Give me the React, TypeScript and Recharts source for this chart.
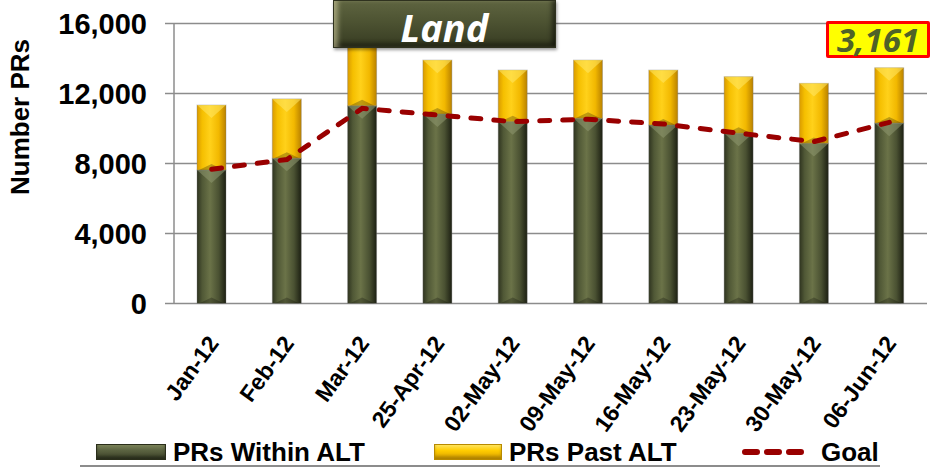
import React from 'react';
import { ComposedChart, Bar, Line, XAxis, YAxis, CartesianGrid } from 'recharts';

const categories = ['Jan-12', 'Feb-12', 'Mar-12', '25-Apr-12', '02-May-12', '09-May-12', '16-May-12', '23-May-12', '30-May-12', '06-Jun-12'];
const withinAlt = [7630, 8300, 11300, 10830, 10390, 10580, 10200, 9730, 9150, 10310];
const pastAlt = [3710, 3390, 4000, 3080, 2950, 3330, 3140, 3230, 3430, 3161];
const goal = [7670, 8230, 11150, 10770, 10390, 10530, 10260, 9730, 9250, 10350];
const yTicks = [0, 4000, 8000, 12000, 16000];
const edgeTicks = [0, 1, 2, 3, 4, 5, 6, 7, 8, 9, 10];
const legendLabels = ['PRs Within ALT', 'PRs Past ALT', 'Goal'];
const titleText = 'Land';
const calloutText = '3,161';

const data = categories.map((c, i) => ({
  name: c,
  within: withinAlt[i],
  past: pastAlt[i],
  goal: goal[i],
}));

const FONT = '"Liberation Sans", Arial, sans-serif';

const makeBevel = (gradId: string, light: string) => (props: any) => {
  const { x, y, width, height } = props;
  if (!height || height <= 0) return null;
  const tri = Math.min(width * 0.45, height / 2);
  return (
    <g>
      <rect x={x} y={y} width={width} height={height} fill={`url(#${gradId})`} stroke="rgba(120,120,120,0.35)" strokeWidth={1} />
      <polygon points={`${x},${y} ${x + width},${y} ${x + width / 2},${y + tri}`} fill={light} opacity={0.55} />
      <polygon points={`${x + 2},${y + height} ${x + width - 2},${y + height} ${x + width / 2},${y + height - Math.min(6, height / 3)}`} fill="rgba(0,0,0,0.25)" />
    </g>
  );
};

const GreenBar = makeBevel('gradGreen', '#8e9870');
const YellowBar = makeBevel('gradYellow', '#ffe866');

const XTick = (props: any) => {
  const { x, y, payload } = props;
  const ax = x + 8;
  const ay = y + 40;
  return (
    <text x={ax} y={ay} transform={`rotate(-54, ${ax}, ${ay})`} textAnchor="end" fontFamily={FONT} fontWeight="bold" fontSize={23} fill="#000">
      {payload.value}
    </text>
  );
};

const YLabel = () => (
  <text x={20} y={117} transform="rotate(-90, 20, 117)" textAnchor="middle" dominantBaseline="central" fontFamily={FONT} fontWeight="bold" fontSize={26} fill="#000">
    Number PRs
  </text>
);

export default function App() {
  return (
    <div style={{ position: 'absolute', left: 0, top: 0, width: 933, height: 469, background: '#fff', overflow: 'hidden' }}>
      <ComposedChart width={933} height={469} data={data} margin={{ top: 23.5, right: 6, left: 0, bottom: 0 }} barSize={29}>
        <defs>
          <linearGradient id="gradGreen" x1="0" y1="0" x2="1" y2="0">
            <stop offset="0%" stopColor="#2e331f" />
            <stop offset="18%" stopColor="#505836" />
            <stop offset="45%" stopColor="#6b7348" />
            <stop offset="75%" stopColor="#4a5132" />
            <stop offset="100%" stopColor="#1c1f12" />
          </linearGradient>
          <linearGradient id="gradYellow" x1="0" y1="0" x2="1" y2="0">
            <stop offset="0%" stopColor="#d99a00" />
            <stop offset="18%" stopColor="#f5bf00" />
            <stop offset="45%" stopColor="#ffd11a" />
            <stop offset="75%" stopColor="#f2b800" />
            <stop offset="100%" stopColor="#b98100" />
          </linearGradient>
        </defs>
        <CartesianGrid vertical={false} stroke="#8c8c8c" strokeWidth={1.5} xAxisId="cat" />
        <XAxis
          xAxisId="edges"
          type="number"
          domain={[0, 10]}
          ticks={edgeTicks}
          tick={false}
          tickSize={7}
          height={0}
          allowDataOverflow
          axisLine={{ stroke: '#8c8c8c', strokeWidth: 1.5 }}
          tickLine={{ stroke: '#8c8c8c', strokeWidth: 1.5 }}
        />
        <XAxis
          xAxisId="cat"
          dataKey="name"
          type="category"
          interval={0}
          height={165.5}
          axisLine={false}
          tickLine={false}
          tickSize={0}
          tickMargin={0}
          tick={<XTick />}
        />
        <YAxis
          width={174}
          domain={[0, 16000]}
          ticks={yTicks}
          allowDataOverflow
          interval={0}
          tickFormatter={(v: number) => v.toLocaleString('en-US')}
          tick={{ fontFamily: FONT, fontWeight: 'bold', fontSize: 29, fill: '#000' }}
          tickSize={9}
          tickMargin={18}
          axisLine={{ stroke: '#8c8c8c', strokeWidth: 1.5 }}
          tickLine={{ stroke: '#8c8c8c', strokeWidth: 1.5 }}
          label={{ content: YLabel }}
        />
        <Bar xAxisId="cat" dataKey="within" stackId="s" shape={GreenBar} isAnimationActive={false} />
        <Bar xAxisId="cat" dataKey="past" stackId="s" shape={YellowBar} isAnimationActive={false} />
        <Line
          xAxisId="cat"
          dataKey="goal"
          type="linear"
          stroke="#990000"
          strokeWidth={5}
          strokeDasharray="10 13"
          strokeLinecap="round"
          dot={false}
          activeDot={false}
          isAnimationActive={false}
        />
      </ComposedChart>

      {/* Title box */}
      <div
        style={{
          position: 'absolute',
          left: 333,
          top: 0,
          width: 223,
          height: 48,
          boxSizing: 'border-box',
          paddingTop: 5,
          background: 'linear-gradient(to bottom, #5e6440 0%, #4d5332 45%, #3f4428 80%, #2c3019 100%)',
          border: '1px solid #2f321f',
          boxShadow: 'inset 6px 0 5px -2px rgba(220,215,170,0.55), inset -5px -4px 5px -2px rgba(0,0,0,0.55), 1px 2px 3px rgba(0,0,0,0.4)',
          display: 'flex',
          alignItems: 'center',
          justifyContent: 'center',
          color: '#fff',
          fontFamily: '"Open Sans", sans-serif',
          fontWeight: 700,
          fontStyle: 'italic',
          fontSize: 38,
          lineHeight: '40px',
        }}
      >
        {titleText}
      </div>

      {/* Callout box */}
      <div
        style={{
          position: 'absolute',
          left: 826,
          top: 21,
          width: 104,
          height: 37,
          boxSizing: 'border-box',
          background: '#ffff00',
          border: '3px solid #ff0000',
          borderRadius: 2,
          display: 'flex',
          alignItems: 'center',
          justifyContent: 'center',
          color: '#4f6228',
          fontFamily: '"Open Sans", sans-serif',
          fontWeight: 700,
          fontStyle: 'italic',
          fontSize: 33,
          lineHeight: 1,
        }}
      >
        {calloutText}
      </div>

      {/* Legend */}
      <div style={{ position: 'absolute', left: 96, top: 444, width: 70, height: 16, boxSizing: 'border-box', background: 'linear-gradient(to bottom, #7a8258 0%, #5a6240 40%, #3c4228 100%)', border: '1px solid #2a2e1a', boxShadow: 'inset 0 -3px 3px rgba(0,0,0,0.35)' }} />
      <div style={{ position: 'absolute', left: 173, top: 437, fontFamily: FONT, fontWeight: 'bold', fontSize: 26, lineHeight: '30px', color: '#000', whiteSpace: 'nowrap' }}>{legendLabels[0]}</div>
      <div style={{ position: 'absolute', left: 434, top: 444, width: 68, height: 16, boxSizing: 'border-box', background: 'linear-gradient(to bottom, #ffe45c 0%, #ffcc00 40%, #d9a000 100%)', border: '1px solid #b88a00', boxShadow: 'inset 0 -3px 3px rgba(0,0,0,0.2)' }} />
      <div style={{ position: 'absolute', left: 509, top: 437, fontFamily: FONT, fontWeight: 'bold', fontSize: 26, lineHeight: '30px', color: '#000', whiteSpace: 'nowrap' }}>{legendLabels[1]}</div>
      <svg style={{ position: 'absolute', left: 740, top: 444 }} width={72} height={16}>
        <line x1={5} y1={8} x2={67} y2={8} stroke="#990000" strokeWidth={6} strokeDasharray="12 10" strokeLinecap="round" />
      </svg>
      <div style={{ position: 'absolute', left: 821, top: 437, fontFamily: FONT, fontWeight: 'bold', fontSize: 26, lineHeight: '30px', color: '#000', whiteSpace: 'nowrap' }}>{legendLabels[2]}</div>
      <div style={{ position: 'absolute', left: 80, top: 465, width: 800, height: 2, background: '#8c8c8c' }} />
    </div>
  );
}
